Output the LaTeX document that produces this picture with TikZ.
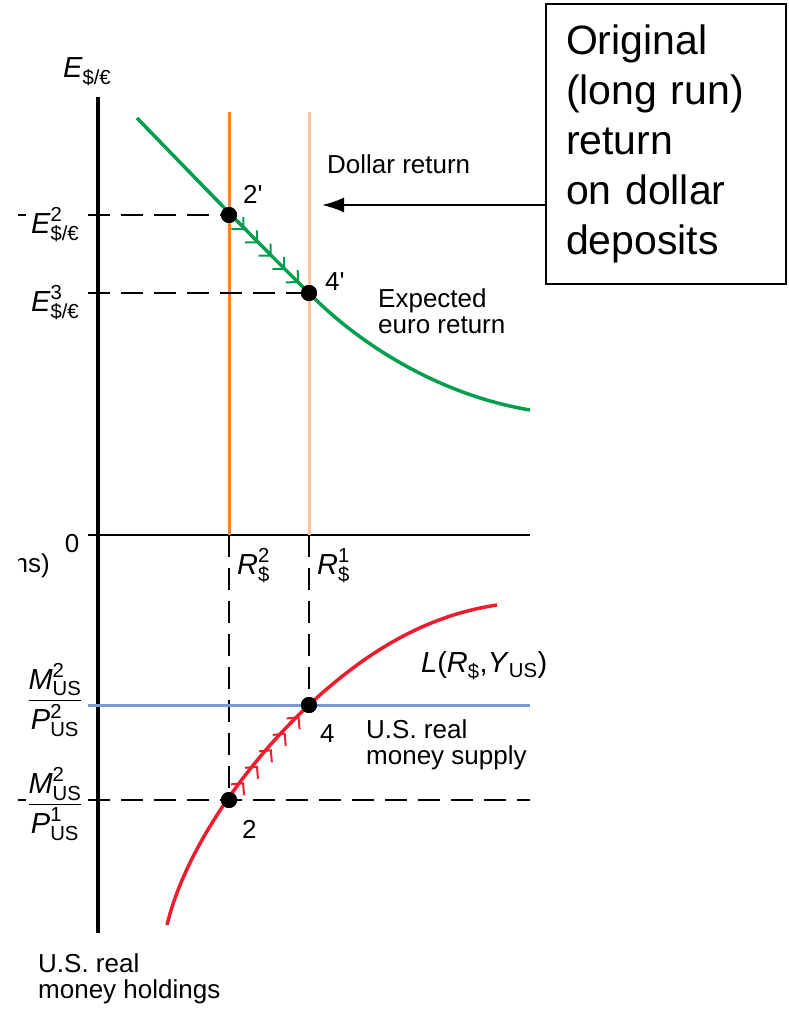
\documentclass[tikz,border=0pt]{standalone}
\usepackage{amsmath}
\usepackage{fontspec}
\setmainfont{Liberation Sans}
\usetikzlibrary{arrows.meta,positioning,calc,decorations.markings}
\definecolor{eurogreen}{RGB}{0,158,79}
\definecolor{dollarnew}{RGB}{242,132,48}
\definecolor{dollarold}{RGB}{252,196,152}
\definecolor{liqred}{RGB}{237,28,46}
\definecolor{supplyblue}{RGB}{128,152,210}
\newcommand{\lblfont}{\fontsize{26}{26.5}\selectfont}
\newcommand{\symfont}{\fontsize{29}{30}\selectfont}
\newcommand{\boxfont}{\fontsize{41}{50}\selectfont}
\newcommand{\ssym}[3]{$\textit{#1}^{\text{#2}}_{\text{#3}}$}
\tikzset{
  axisline/.style={line width=3.5pt,black},
  zeroline/.style={line width=2pt,black},
  guide/.style={line width=2pt,black,dash pattern=on 22pt off 11pt},
  newreturn/.style={line width=3pt,dollarnew},
  oldreturn/.style={line width=3pt,dollarold},
  eurocurve/.style={line width=3.5pt,eurogreen},
  liqcurve/.style={line width=3.5pt,liqred},
  supplyline/.style={line width=3pt,supplyblue},
  dot/.style={circle,fill=black,minimum size=16pt,inner sep=0pt},
  lbl/.style={inner sep=0pt,font=\lblfont},
  symlbl/.style={inner sep=0pt,font=\symfont},
  multilbl/.style={inner sep=0pt,font=\lblfont,align=left},
  callout/.style={
    draw=black,
    line width=2pt,
    align=left,
    inner xsep=20pt,
    inner ysep=0pt,
    text width=200pt,
    minimum height=280pt,
    font=\boxfont
  },
  pointer/.style={-{Latex[length=22pt,width=15pt]},line width=2pt,black},
  flowmarks/.style={
    postaction={decorate,decoration={markings,
      mark=between positions 0.14 and 0.94 step 0.2 with
        {\arrow{Straight Barb[angle=90:12pt,line width=2pt]}}}}
  }
}

\begin{document}
\begin{tikzpicture}[x=1pt,y=-1pt]
  \useasboundingbox (0,0) rectangle (788,1009);

  % axes
  \draw[axisline] (98,97) -- (98,933);
  \draw[zeroline] (88,535) -- (530,535);
  \node[lbl,anchor=base] (zero) at (72,552) {0};
  \node[symlbl,anchor=base west] (yaxis) at (63,77) {\ssym{E}{}{\$/€}};
  \begin{scope}
    \clip (18,545) rectangle (60,600);
    \node[lbl,anchor=base east] (cutunit) at (50,572) {ons)};
  \end{scope}
  \node[multilbl,anchor=north west] (xaxis) at (38,953) {U.S. real\\money holdings};

  % dollar returns
  \draw[newreturn] (229,112) -- (229,535);
  \draw[oldreturn] (309,112) -- (309,535);
  \node[lbl,anchor=base west] (dollar) at (327,173) {Dollar return};

  % equilibrium points
  \node[dot] (q2) at (229,215) {};
  \node[dot] (q4) at (309,293) {};
  \node[dot] (p2) at (229,800) {};
  \node[dot] (p4) at (309,705) {};

  % guides
  \draw[guide] (18,215) -- (26,215);
  \draw[guide] (18,800) -- (26,800);
  \draw[guide] (88,215) -- (q2.center);
  \draw[guide] (88,293) -- (q4.center);
  \draw[guide] (229,535) -- (p2.center);
  \draw[guide] (309,535) -- (p4.center);
  \draw[guide] (88,800) -- (530,800);
  \draw[supplyline] (88,705) -- (530,705);

  % curves
  \draw[eurocurve] (137,118) .. controls (200,183) and (260,245) .. (q4.center)
    .. controls (360,345) and (440,395) .. (530,410);
  \draw[liqcurve] (167,925) .. controls (185,850) and (245,765) .. (p4.center)
    .. controls (370,648) and (430,615) .. (497,605);
  \path[flowmarks,color=eurogreen] (q2) -- (q4);
  \path[flowmarks,color=liqred] (p2) -- (p4);

  % redraw dots on top
  \fill (q2) circle (8pt) (q4) circle (8pt) (p2) circle (8pt) (p4) circle (8pt);

  % labels
  \node[lbl,anchor=base west] (q2lbl) at (243,203) {2\textquotesingle};
  \node[lbl,anchor=base west] (q4lbl) at (325,290) {4\textquotesingle};
  \node[lbl,anchor=base west] (p2lbl) at (242,838) {2};
  \node[lbl,anchor=base west] (p4lbl) at (320,742) {4};
  \node[symlbl,anchor=base west] (e2) at (31,233) {\ssym{E}{2}{\$/€}};
  \node[symlbl,anchor=base west] (e3) at (31,311) {\ssym{E}{3}{\$/€}};
  \node[symlbl,anchor=base west] (r2) at (237,574) {\ssym{R}{2}{\$}};
  \node[symlbl,anchor=base west] (r1) at (317,574) {\ssym{R}{1}{\$}};
  \node[multilbl,anchor=north west] (euro) at (378,288) {Expected\\euro return};
  \node[symlbl,anchor=base west] (liq) at (421,672)
    {\textit{L}(\textit{R}\textsubscript{\$},\textit{Y}\textsubscript{US})};
  \node[multilbl,anchor=north west] (supply) at (366,719) {U.S. real\\money supply};
  \node[symlbl] (m2) at (55,700)
    {$\dfrac{\textit{M}^{\text{2}}_{\text{US}}}{\textit{P}^{\text{2}}_{\text{US}}}$};
  \node[symlbl] (m1) at (55,804)
    {$\dfrac{\textit{M}^{\text{2}}_{\text{US}}}{\textit{P}^{\text{1}}_{\text{US}}}$};

  % callout
  \node[callout,anchor=north west] (orig) at (545,3)
    {Original\\(long run)\\return\\on dollar\\deposits};
  \coordinate (dollartip) at (322,205);
  \draw[pointer] (orig.west |- dollartip) -- (dollartip);
\end{tikzpicture}
\end{document}
